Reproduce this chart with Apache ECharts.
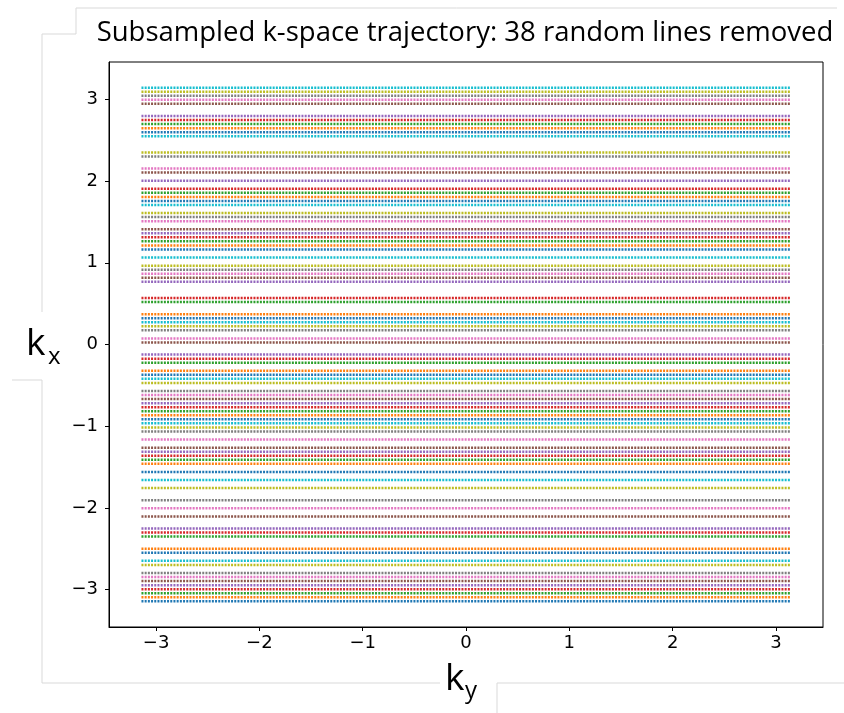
<!DOCTYPE html>
<html>
<head>
<meta charset="utf-8">
<script src="https://cdn.jsdelivr.net/npm/echarts@6/dist/echarts.min.js"></script>
<style>
html,body{margin:0;padding:0;background:#fff;}
#chart{width:844px;height:713px;}
</style>
</head>
<body>
<div id="chart"></div>
<script>
// k_x positions of the retained phase-encode lines (bottom to top)
const kxLines = [
  -3.1416,-3.0921,-3.0426,-2.9932,-2.9437,-2.8942,-2.8447,-2.7953,-2.6963,-2.6468,
  -2.5479,-2.4984,-2.3500,-2.3005,-2.2511,-2.1026,-2.0037,-1.9047,-1.7563,-1.6574,
  -1.5584,-1.4595,-1.4100,-1.3605,-1.3111,-1.2616,-1.1626,-1.0637,-1.0142,-0.9647,
  -0.9153,-0.8658,-0.8163,-0.7668,-0.7174,-0.6679,-0.6184,-0.5689,-0.4700,-0.4205,
  -0.3711,-0.3216,-0.2226,-0.1732,-0.1237,0.0247,0.0742,0.1732,0.2226,0.2721,
  0.3216,0.3711,0.5195,0.5689,0.7668,0.8163,0.8658,0.9153,0.9647,1.0637,
  1.1626,1.2121,1.2616,1.3111,1.3605,1.4100,1.5089,1.5584,1.6079,1.7068,
  1.7563,1.8058,1.8553,1.9047,2.0037,2.1026,2.1521,2.3005,2.3500,2.5479,
  2.5974,2.6468,2.6963,2.7458,2.7953,2.9437,2.9932,3.0426,3.0921,3.1416
];
// k_y extent of each readout line
const kyRange = [-3.1416, 3.1416];
// tick labels
const xTicks = [-3, -2, -1, 0, 1, 2, 3];
const yTicks = [-3, -2, -1, 0, 1, 2, 3];
const axisMin = -3.4558, axisMax = 3.4558;
const palette = ['#1f77b4','#ff7f0e','#2ca02c','#d62728','#9467bd','#8c564b','#e377c2','#7f7f7f','#bcbd22','#17becf'];
const titleText = 'Subsampled k-space trajectory: 38 random lines removed';

const fmt = v => v < 0 ? '\u2212' + Math.abs(v) : String(v);

const series = kxLines.map((kx, i) => ({
  type: 'line',
  data: [[kyRange[0], kx], [kyRange[1], kx]],
  showSymbol: false,
  silent: true,
  animation: false,
  lineStyle: { color: palette[i % 10], width: 2.5, type: [2, 1.2] }
}));

const grayLine = { stroke: '#d9d9d9', lineWidth: 1, fill: null };

const chart = echarts.init(document.getElementById('chart'), null, { renderer: 'canvas' });
chart.setOption({
  backgroundColor: '#fff',
  animation: false,
  grid: { left: 109, right: 21, top: 62, bottom: 86, show: true, borderColor: '#000', borderWidth: 1, backgroundColor: '#fff' },
  xAxis: {
    type: 'value', min: axisMin, max: axisMax,
    splitLine: { show: false },
    axisLine: { show: true, onZero: false, lineStyle: { color: '#000', width: 1 } },
    axisTick: { show: true, customValues: xTicks, length: 4, lineStyle: { color: '#000' } },
    axisLabel: { customValues: xTicks, formatter: fmt, color: '#000', fontFamily: 'DejaVu Sans', fontSize: 18, margin: 7 }
  },
  yAxis: {
    type: 'value', min: axisMin, max: axisMax,
    splitLine: { show: false },
    axisLine: { show: true, onZero: false, lineStyle: { color: '#000', width: 1 } },
    axisTick: { show: true, customValues: yTicks, length: 4, lineStyle: { color: '#000' } },
    axisLabel: { customValues: yTicks, formatter: fmt, color: '#000', fontFamily: 'DejaVu Sans', fontSize: 18, margin: 11 }
  },
  series: series,
  graphic: [
    { type: 'polyline', silent: true, shape: { points: [[837,8],[76,8],[76,34],[42,34],[42,312]] }, style: grayLine },
    { type: 'polyline', silent: true, shape: { points: [[12,380],[42,380],[42,683],[440,683]] }, style: grayLine },
    { type: 'polyline', silent: true, shape: { points: [[497,713],[497,683],[844,683]] }, style: grayLine },
    { type: 'text', silent: true, x: 465, y: 33,
      style: { text: titleText, fontFamily: 'Open Sans', fontSize: 27.5, fill: '#000', align: 'center', verticalAlign: 'middle' } },
    { type: 'text', silent: true, x: 26, y: 326, style: { text: 'k', fontFamily: 'Open Sans', fontSize: 37, fill: '#000' } },
    { type: 'text', silent: true, x: 48, y: 345, style: { text: 'x', fontFamily: 'Open Sans', fontSize: 24, fill: '#000' } },
    { type: 'text', silent: true, x: 445, y: 661, style: { text: 'k', fontFamily: 'Open Sans', fontSize: 37, fill: '#000' } },
    { type: 'text', silent: true, x: 465, y: 679, style: { text: 'y', fontFamily: 'Open Sans', fontSize: 24, fill: '#000' } }
  ]
});
</script>
</body>
</html>
